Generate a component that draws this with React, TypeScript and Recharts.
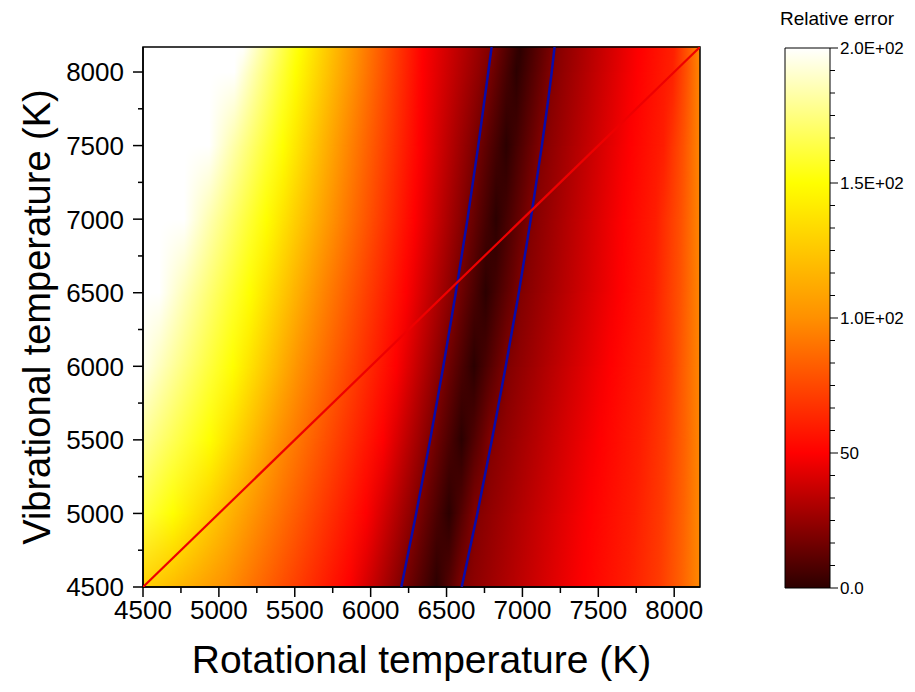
import React from 'react'
import { ComposedChart, XAxis, YAxis, Scatter, ReferenceArea, Label } from 'recharts'

const FONT = '"Liberation Sans", Arial, Helvetica, sans-serif'

const T_MIN = 4500
const T_MAX = 8170
const AXIS_TICKS = [4500, 4750, 5000, 5250, 5500, 5750, 6000, 6250, 6500, 6750, 7000, 7250, 7500, 7750, 8000]

// relative error read along horizontal rows of the map: [rotational T, value]
const ROW_4500 = [[4500, 130], [4830, 112], [5049, 100], [5862, 50], [6202, 20], [6435, 0], [6600, 20], [7401, 50], [7700, 60], [7900, 70], [8050, 84], [8170, 98]]
const ROW_5000 = [[4500, 163], [4698, 150], [5247, 100], [5971, 50], [6303, 20], [6517, 0], [6684, 20], [7445, 50], [7740, 60], [7920, 70], [8060, 84], [8170, 98]]
const ROW_5500 = [[4500, 180], [4939, 150], [5400, 100], [6081, 50], [6391, 20], [6599, 0], [6786, 20], [7511, 50], [7780, 60], [7940, 70], [8070, 84], [8170, 97]]
const ROW_6000 = [[4500, 196], [5093, 150], [5532, 100], [6169, 50], [6472, 20], [6681, 0], [6896, 20], [7577, 50], [7830, 60], [7980, 72], [8080, 85], [8170, 97]]
const ROW_6500 = [[4500, 200], [4608, 200], [5203, 150], [5642, 100], [6235, 50], [6555, 20], [6758, 0], [6987, 20], [7643, 50], [7862, 60], [8038, 78], [8170, 97]]
const ROW_7000 = [[4500, 200], [4772, 200], [5313, 150], [5752, 100], [6290, 50], [6619, 20], [6826, 0], [7052, 20], [7665, 50], [7880, 60], [8045, 78], [8170, 97]]
const ROW_7500 = [[4500, 200], [4937, 200], [5422, 150], [5818, 100], [6323, 50], [6676, 20], [6893, 0], [7119, 20], [7708, 50], [7930, 60], [8060, 78], [8170, 97]]
const ROW_8000 = [[4500, 200], [5102, 200], [5505, 150], [5890, 100], [6340, 50], [6766, 20], [6961, 0], [7187, 20], [7757, 50], [7990, 61], [8090, 80], [8170, 97]]
const ROW_8170 = [[4500, 200], [5159, 200], [5532, 150], [5905, 100], [6345, 50], [6797, 20], [6983, 0], [7210, 20], [7774, 50], [8000, 61], [8100, 82], [8170, 98]]

const ROWS = [
  { y: 4500, stops: ROW_4500 },
  { y: 5000, stops: ROW_5000 },
  { y: 5500, stops: ROW_5500 },
  { y: 6000, stops: ROW_6000 },
  { y: 6500, stops: ROW_6500 },
  { y: 7000, stops: ROW_7000 },
  { y: 7500, stops: ROW_7500 },
  { y: 8000, stops: ROW_8000 },
  { y: 8170, stops: ROW_8170 },
]

// contour lines (blue) and the Trot = Tvib diagonal
const CONTOUR_LEFT = [
  { x: 6202, y: 4500 }, { x: 6300, y: 5000 }, { x: 6392, y: 5500 }, { x: 6479, y: 6000 },
  { x: 6561, y: 6500 }, { x: 6638, y: 7000 }, { x: 6709, y: 7500 }, { x: 6775, y: 8000 },
  { x: 6797, y: 8170 },
]
const CONTOUR_RIGHT = [
  { x: 6600, y: 4500 }, { x: 6703, y: 5000 }, { x: 6799, y: 5500 }, { x: 6890, y: 6000 },
  { x: 6976, y: 6500 }, { x: 7055, y: 7000 }, { x: 7128, y: 7500 }, { x: 7193, y: 8000 },
  { x: 7212, y: 8170 },
]
const DIAGONAL = [{ x: 4500, y: 4500 }, { x: 8170, y: 8170 }]

// colour scale
const CMAP: [number, string][] = [[0, '#2c0000'], [50, '#ff0000'], [100, '#ff9000'], [150, '#ffff00'], [200, '#ffffff']]
const CB_MAJOR = [0, 50, 100, 150, 200]
const CB_LABELS = ['0.0', '50', '1.0E+02', '1.5E+02', '2.0E+02']
const CB_MINOR = 5

const rgb = (c: string) => [1, 3, 5].map((i) => parseInt(c.slice(i, i + 2), 16))

function colorOf(v: number) {
  const t = Math.max(0, Math.min(200, v))
  for (let i = 1; i < CMAP.length; i++) {
    if (t <= CMAP[i][0]) {
      const [a, ca] = CMAP[i - 1]
      const [b, cb] = CMAP[i]
      const f = (t - a) / (b - a)
      const A = rgb(ca)
      const B = rgb(cb)
      return `rgb(${A.map((x, k) => Math.round(x + (B[k] - x) * f)).join(',')})`
    }
  }
  return CMAP[CMAP.length - 1][1]
}

const cbTicks: number[] = []
CB_MAJOR.forEach((m, i) => {
  cbTicks.push(m)
  if (i < CB_MAJOR.length - 1) {
    const step = (CB_MAJOR[i + 1] - m) / (CB_MINOR + 1)
    for (let k = 1; k <= CB_MINOR; k++) cbTicks.push(m + k * step)
  }
})

const isMajor500 = (v: number) => v % 500 === 0

function XTick(props: any) {
  const { x, y, payload } = props
  const major = isMajor500(payload.value)
  return (
    <g>
      <line x1={x} y1={y} x2={x} y2={y + (major ? 10 : 6)} stroke="#000" strokeWidth={1.5} />
      {major && (
        <text x={x} y={y + 14} dy="0.71em" textAnchor="middle" fontSize={26} fontFamily={FONT} fill="#000">
          {payload.value}
        </text>
      )}
    </g>
  )
}

function YTick(props: any) {
  const { x, y, payload } = props
  const major = isMajor500(payload.value)
  return (
    <g>
      <line x1={x - (major ? 10 : 5)} y1={y} x2={x} y2={y} stroke="#000" strokeWidth={1.5} />
      {major && (
        <text x={x - 19} y={y} dy="0.36em" textAnchor="end" fontSize={26} fontFamily={FONT} fill="#000">
          {payload.value}
        </text>
      )}
    </g>
  )
}

function CbTick(props: any) {
  const { x, y, payload } = props
  const idx = CB_MAJOR.findIndex((m) => Math.abs(m - payload.value) < 1e-6)
  const major = idx >= 0
  return (
    <g>
      <line x1={x} y1={y} x2={x + (major ? 8 : 5)} y2={y} stroke="#000" strokeWidth={1} />
      {major && (
        <text x={x + 10} y={y} dy="0.36em" textAnchor="start" fontSize={17} fontFamily={FONT} fill="#000">
          {CB_LABELS[idx]}
        </text>
      )}
    </g>
  )
}

function HeatMap() {
  return (
    <ComposedChart width={760} height={692} margin={{ top: 47, right: 60, bottom: 0, left: 0 }}>
      <defs>
        {ROWS.map((r, i) => (
          <linearGradient key={i} id={`row${i}`} x1="0" y1="0" x2="1" y2="0">
            {r.stops.map(([t, v], k) => (
              <stop key={k} offset={(t - T_MIN) / (T_MAX - T_MIN)} stopColor={colorOf(v)} />
            ))}
          </linearGradient>
        ))}
        <linearGradient id="fadeGrad" x1="0" y1="0" x2="0" y2="1">
          <stop offset="0" stopColor="#fff" stopOpacity={1} />
          <stop offset="1" stopColor="#fff" stopOpacity={0} />
        </linearGradient>
        <mask id="fadeUp" maskContentUnits="objectBoundingBox">
          <rect x="0" y="0" width="1" height="1" fill="url(#fadeGrad)" />
        </mask>
      </defs>
      <XAxis
        type="number"
        dataKey="x"
        domain={[T_MIN, T_MAX]}
        ticks={AXIS_TICKS}
        interval={0}
        tickSize={0}
        tickMargin={0}
        tickLine={false}
        tick={(p: any) => <XTick {...p} />}
        height={105}
        axisLine={{ stroke: '#000', strokeWidth: 1.5 }}
        allowDataOverflow
      >
        <Label value="Rotational temperature (K)" position="insideBottom" offset={19} fontSize={39} fontFamily={FONT} fill="#000" />
      </XAxis>
      <YAxis
        type="number"
        dataKey="y"
        domain={[T_MIN, T_MAX]}
        ticks={AXIS_TICKS}
        interval={0}
        tickSize={0}
        tickMargin={0}
        tickLine={false}
        tick={(p: any) => <YTick {...p} />}
        width={143}
        axisLine={{ stroke: '#000', strokeWidth: 1.5 }}
        allowDataOverflow
      >
        <Label
          value="Vibrational temperature (K)"
          angle={-90}
          position="insideLeft"
          offset={37}
          fontSize={38}
          fontFamily={FONT}
          fill="#000"
          style={{ textAnchor: 'middle' }}
        />
      </YAxis>
      {ROWS.slice(0, -1).map((r, i) => (
        <ReferenceArea
          key={`band${i}`}
          x1={T_MIN}
          x2={T_MAX}
          y1={r.y}
          y2={ROWS[i + 1].y}
          shape={(p: any) => (
            <g>
              <rect x={p.x} y={p.y - 0.5} width={p.width} height={p.height + 1} fill={`url(#row${i})`} />
              <rect x={p.x} y={p.y - 0.5} width={p.width} height={p.height + 1} fill={`url(#row${i + 1})`} mask="url(#fadeUp)" />
            </g>
          )}
        />
      ))}
      <ReferenceArea x1={T_MIN} x2={T_MAX} y1={T_MIN} y2={T_MAX} fill="none" fillOpacity={0} stroke="#000" strokeWidth={1.5} />
      <Scatter data={CONTOUR_LEFT} line={{ stroke: '#0a0aa8', strokeWidth: 2.5 }} lineJointType="monotoneY" shape={() => <g />} isAnimationActive={false} />
      <Scatter data={CONTOUR_RIGHT} line={{ stroke: '#0a0aa8', strokeWidth: 2.5 }} lineJointType="monotoneY" shape={() => <g />} isAnimationActive={false} />
      <Scatter data={DIAGONAL} line={{ stroke: '#ee0000', strokeWidth: 2.2 }} shape={() => <g />} isAnimationActive={false} />
    </ComposedChart>
  )
}

function ColorBar() {
  return (
    <ComposedChart width={155} height={692} margin={{ top: 48, right: 0, bottom: 104, left: 25 }}>
      <defs>
        <linearGradient id="cbar" x1="0" y1="1" x2="0" y2="0">
          {CMAP.map(([v, c]) => (
            <stop key={v} offset={v / 200} stopColor={c} />
          ))}
        </linearGradient>
      </defs>
      <XAxis type="number" dataKey="x" domain={[0, 1]} hide />
      <YAxis
        type="number"
        dataKey="v"
        orientation="right"
        domain={[0, 200]}
        ticks={cbTicks}
        interval={0}
        tickSize={0}
        tickMargin={0}
        tickLine={false}
        axisLine={false}
        tick={(p: any) => <CbTick {...p} />}
        width={85}
      />
      <ReferenceArea x1={0} x2={1} y1={0} y2={200} fill="url(#cbar)" fillOpacity={1} stroke="#000" strokeWidth={1} />
      <Scatter data={[{ x: 0.5, v: 0 }, { x: 0.5, v: 200 }]} shape={() => <g />} isAnimationActive={false} />
    </ComposedChart>
  )
}

export default function App() {
  return (
    <div style={{ position: 'absolute', left: 0, top: 0, width: 915, height: 692, background: '#fff', fontFamily: FONT }}>
      <div style={{ position: 'absolute', left: 0, top: 0 }}>
        <HeatMap />
      </div>
      <div style={{ position: 'absolute', left: 760, top: 0 }}>
        <ColorBar />
      </div>
      <div style={{ position: 'absolute', left: 780, top: 9, fontSize: 19, lineHeight: 1, color: '#000', whiteSpace: 'nowrap' }}>
        Relative error
      </div>
    </div>
  )
}
